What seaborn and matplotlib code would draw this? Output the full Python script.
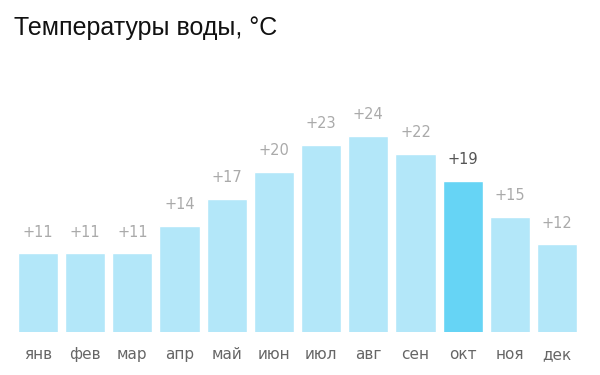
import matplotlib
matplotlib.use("Agg")
import matplotlib.pyplot as plt
import seaborn as sns
import pandas as pd

months = ["янв", "фев", "мар", "апр", "май", "июн", "июл", "авг", "сен", "окт", "ноя", "дек"]
temps = [11, 11, 11, 14, 17, 20, 23, 24, 22, 19, 15, 12]
highlight = "окт"

light = "#b3e7f9"
dark = "#66d4f5"

sns.set_theme(style="white")
plt.rcParams["font.family"] = ["DejaVu Sans"]

df = pd.DataFrame({"month": months, "temp": temps})
df["hl"] = ["h" if m == highlight else "n" for m in months]

fig = plt.figure(figsize=(6, 3.75), dpi=100)
ax = fig.add_axes([0.024, 0.1147, 0.9437, 0.6187])
sns.barplot(data=df, x="month", y="temp", hue="hl", palette={"n": light, "h": dark},
            width=0.85, legend=False, ax=ax, saturation=1, dodge=False)

ax.set_ylim(2.3, 28)
ax.set_xlim(-0.5, 11.5)
for s in ax.spines.values():
    s.set_visible(False)
ax.set_yticks([])
ax.set_xlabel("")
ax.set_ylabel("")
ax.tick_params(axis="x", length=0, pad=11, labelsize=11, colors="#666666")

for i, (m, t) in enumerate(zip(months, temps)):
    col = "#555555" if m == highlight else "#aaaaaa"
    ax.annotate(f"+{t}", xy=(i, t), xytext=(0, 10), textcoords="offset points",
                ha="center", va="bottom", fontsize=10.5, color=col)

fig.text(14 / 600, 1 - 35 / 375, "Температуры воды, °C", fontsize=18,
         family="Liberation Sans", color="#111111", ha="left", va="baseline")

fig.savefig("out.png", dpi=100, facecolor="white")
